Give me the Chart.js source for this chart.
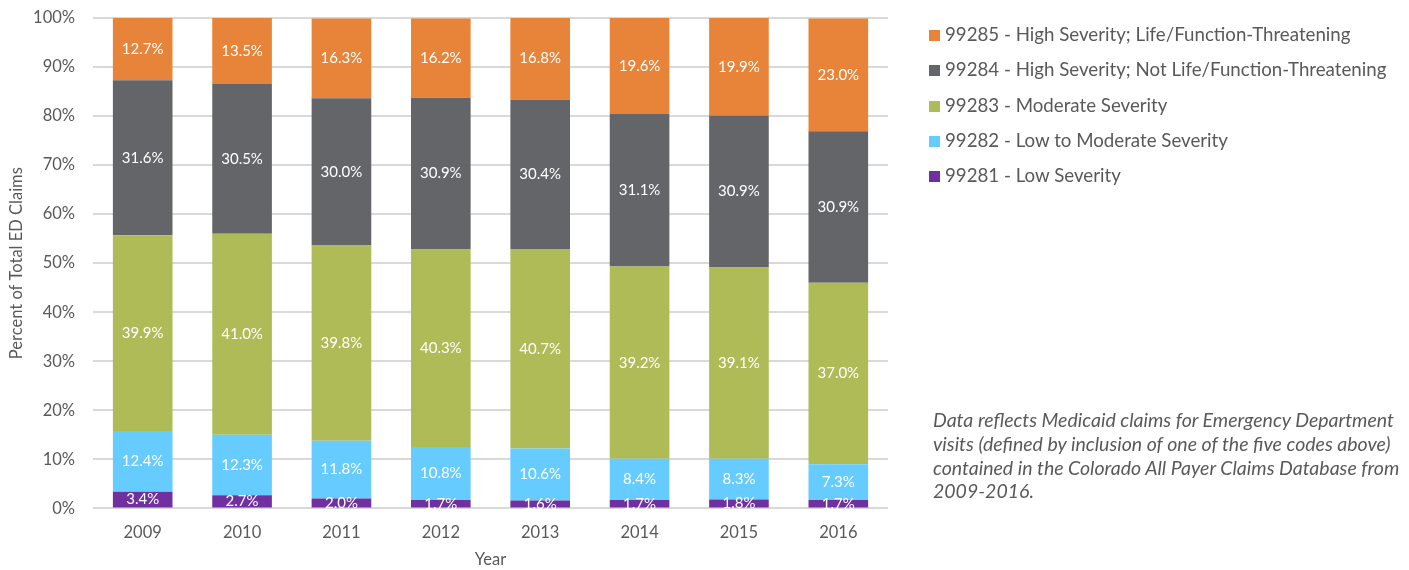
<!DOCTYPE html>
<html lang="en">
<head>
  <meta charset="UTF-8" />
  <title>ED Claims by Severity</title>
  <script src="https://cdn.jsdelivr.net/npm/chart.js@4.4.0/dist/chart.umd.min.js"></script>
  <style>
    body { margin: 0; background: #fff; font-family: Lato, "Open Sans", sans-serif; }
    #wrap { position: relative; width: 1409px; height: 570px; overflow: hidden; }
    #chart { position: absolute; left: 0; top: -10px; }
    #legend { position: absolute; left: 929px; top: 23px; color: #595959; font-size: 18.7px; }
    #legend div { height: 35.3px; display: flex; align-items: flex-start; }
    #legend span.box { display: inline-block; width: 11px; height: 11px; margin: 7px 5px 0 0; }
    #note { position: absolute; left: 933px; top: 408px; width: 475px; color: #595959;
            font-size: 19.5px; font-style: italic; line-height: 23.8px; }
  </style>
</head>
<body>
<div id="wrap">
  <canvas id="chart" width="1409" height="580"></canvas>
  <div id="legend"></div>
  <div id="note">Data reflects Medicaid claims for Emergency Department visits (defined by inclusion of one of the five codes above) contained in the Colorado All Payer Claims Database from 2009-2016.</div>
</div>
<script>
  var years = ["2009", "2010", "2011", "2012", "2013", "2014", "2015", "2016"];
  var low = [3.4, 2.7, 2.0, 1.7, 1.6, 1.7, 1.8, 1.7];
  var lowMod = [12.4, 12.3, 11.8, 10.8, 10.6, 8.4, 8.3, 7.3];
  var moderate = [39.9, 41.0, 39.8, 40.3, 40.7, 39.2, 39.1, 37.0];
  var highNot = [31.6, 30.5, 30.0, 30.9, 30.4, 31.1, 30.9, 30.9];
  var highLife = [12.7, 13.5, 16.3, 16.2, 16.8, 19.6, 19.9, 23.0];

  var series = [
    { label: "99281 - Low Severity", data: low, color: "#7030A0" },
    { label: "99282 - Low to Moderate Severity", data: lowMod, color: "#66CCFF" },
    { label: "99283 - Moderate Severity", data: moderate, color: "#AEBB57" },
    { label: "99284 - High Severity; Not Life/Function-Threatening", data: highNot, color: "#646569" },
    { label: "99285 - High Severity; Life/Function-Threatening", data: highLife, color: "#E8833A" }
  ];

  // legend, top entry is the last series
  var legend = document.getElementById("legend");
  series.slice().reverse().forEach(function (s) {
    var row = document.createElement("div");
    row.innerHTML = '<span class="box" style="background:' + s.color + '"></span>' + s.label;
    legend.appendChild(row);
  });

  var labelPlugin = {
    id: "segLabels",
    afterDatasetsDraw: function (chart) {
      var ctx = chart.ctx;
      ctx.save();
      ctx.fillStyle = "#ffffff";
      ctx.font = "15px Lato, 'Open Sans', sans-serif";
      ctx.textAlign = "center";
      ctx.textBaseline = "middle";
      chart.data.datasets.forEach(function (ds, i) {
        chart.getDatasetMeta(i).data.forEach(function (bar, j) {
          ctx.fillText(ds.data[j].toFixed(1) + "%", bar.x, (bar.y + bar.base) / 2);
        });
      });
      ctx.restore();
    }
  };

  var ctx = document.getElementById("chart").getContext("2d");
  new Chart(ctx, {
    type: "bar",
    data: {
      labels: years,
      datasets: series.map(function (s) {
        return {
          label: s.label,
          data: s.data,
          backgroundColor: s.color,
          barPercentage: 0.6,
          categoryPercentage: 1.0
        };
      })
    },
    options: {
      responsive: false,
      animation: false,
      layout: { padding: { top: 2, right: 521, left: 7, bottom: 0 } },
      plugins: { legend: { display: false }, tooltip: { enabled: false } },
      scales: {
        x: {
          stacked: true,
          grid: { display: false },
          border: { display: false },
          ticks: { color: "#595959", font: { size: 16.5, family: "Lato" }, padding: 6 },
          title: { display: true, text: "Year", color: "#595959", font: { size: 16.5, family: "Lato" }, padding: { top: 2, bottom: 0 } }
        },
        y: {
          stacked: true,
          min: 0,
          max: 100,
          afterFit: function (scale) { scale.width = 86; },
          ticks: {
            stepSize: 10,
            color: "#595959",
            font: { size: 16.5, family: "Lato" },
            padding: 18,
            callback: function (v) { return v + "%"; }
          },
          grid: { color: "#d9d9d9", lineWidth: 2, drawTicks: false },
          border: { display: false },
          title: { display: true, text: "Percent of Total ED Claims", color: "#595959", font: { size: 16.5, family: "Lato" }, padding: 0 }
        }
      }
    },
    plugins: [labelPlugin]
  });
</script>
</body>
</html>
